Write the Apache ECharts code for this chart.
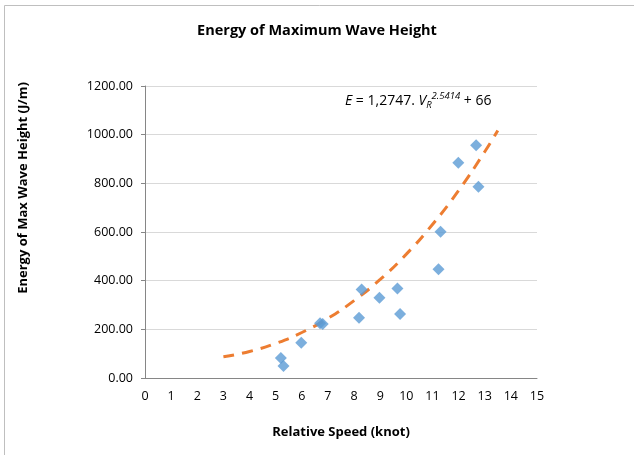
<!DOCTYPE html>
<html><head><meta charset="utf-8">
<script src="https://cdn.jsdelivr.net/npm/echarts@6/dist/echarts.min.js"></script>
<style>html,body{margin:0;padding:0;background:#fff}#c{width:634px;height:455px}</style>
</head><body><div id="c"></div>
<script>
const speed = [5.2, 5.3, 5.98, 6.7, 6.8, 8.19, 8.29, 8.97, 9.66, 9.76, 11.23, 11.31, 11.99, 12.67, 12.76];
const energy = [82, 49, 145, 225, 222, 248, 364, 330, 368, 263, 447, 601, 885, 956, 786];
const trendX = [3, 4, 5, 6, 7, 8, 9, 10, 11, 12, 13, 13.5];
const trendY = [87, 109, 142, 187, 245, 318, 405, 509, 631, 770, 930, 1017];
const xTicks = [0,1,2,3,4,5,6,7,8,9,10,11,12,13,14,15];
const yTicks = [0,200,400,600,800,1000,1200];
const F = '"Open Sans", "Noto Sans", sans-serif';
const chart = echarts.init(document.getElementById('c'));
chart.setOption({
  animation: false,
  title: { text: 'Energy of Maximum Wave Height', left: 'center', top: 18,
    textStyle: { fontFamily: F, fontSize: 14.5, fontWeight: 'bold', color: '#000' } },
  grid: { left: 145, top: 86, width: 392, height: 292 },
  graphic: [
    { type: 'rect', shape: { x: 4.5, y: 5.5, width: 700, height: 600 }, style: { fill: 'none', stroke: '#bfbfbf', lineWidth: 1 }, silent: true },
    { type: 'text', x: 23, y: 188, rotation: Math.PI / 2, style: {
      text: 'Energy of Max Wave Height (J/m)', fontFamily: F, fontSize: 13, fontWeight: 'bold', fill: '#000',
      align: 'center', verticalAlign: 'middle' } },
    { type: 'text', left: 345, top: 91, style: {
      text: '{i|E} = 1,2747. {i|V}{sub|R}{sup|2.5414} + 66',
      rich: {
        i: { fontFamily: F, fontStyle: 'italic', fontSize: 14, fill: '#000' },
        sub: { fontFamily: F, fontStyle: 'italic', fontSize: 9.5, fill: '#000', padding: [9,0,0,0] },
        sup: { fontFamily: F, fontStyle: 'italic', fontSize: 9.5, fill: '#000', padding: [0,0,10,0] }
      },
      fontFamily: F, fontSize: 14, fill: '#000' } }
  ],
  xAxis: { type: 'value', min: 0, max: 15, interval: 1,
    name: 'Relative Speed (knot)', nameLocation: 'middle', nameGap: 48,
    nameTextStyle: { fontFamily: F, fontSize: 13, fontWeight: 'bold', color: '#000' },
    axisLine: { lineStyle: { color: '#868686' } }, axisTick: { show: false },
    axisLabel: { fontFamily: F, fontSize: 12.5, color: '#000', margin: 12,
      formatter: v => xTicks.includes(v) ? String(v) : '' },
    splitLine: { show: false } },
  yAxis: { type: 'value', min: 0, max: 1200, interval: 200,
    axisLine: { show: true, lineStyle: { color: '#868686' } },
    axisTick: { show: true, length: 4, lineStyle: { color: '#868686' } },
    axisLabel: { fontFamily: F, fontSize: 12.5, color: '#000', margin: 12,
      formatter: v => yTicks.includes(v) ? v.toFixed(2) : '' },
    splitLine: { lineStyle: { color: '#d9d9d9' } } },
  series: [
    { type: 'line', data: trendX.map((x, i) => [x, trendY[i]]), smooth: true, showSymbol: false,
      lineStyle: { color: '#ED7D31', width: 3, type: [11, 8] }, z: 2 },
    { type: 'scatter', data: speed.map((x, i) => [x, energy[i]]), symbol: 'diamond', symbolSize: 12,
      itemStyle: { color: '#5B9BD5' }, z: 3 }
  ]
});
</script></body></html>
